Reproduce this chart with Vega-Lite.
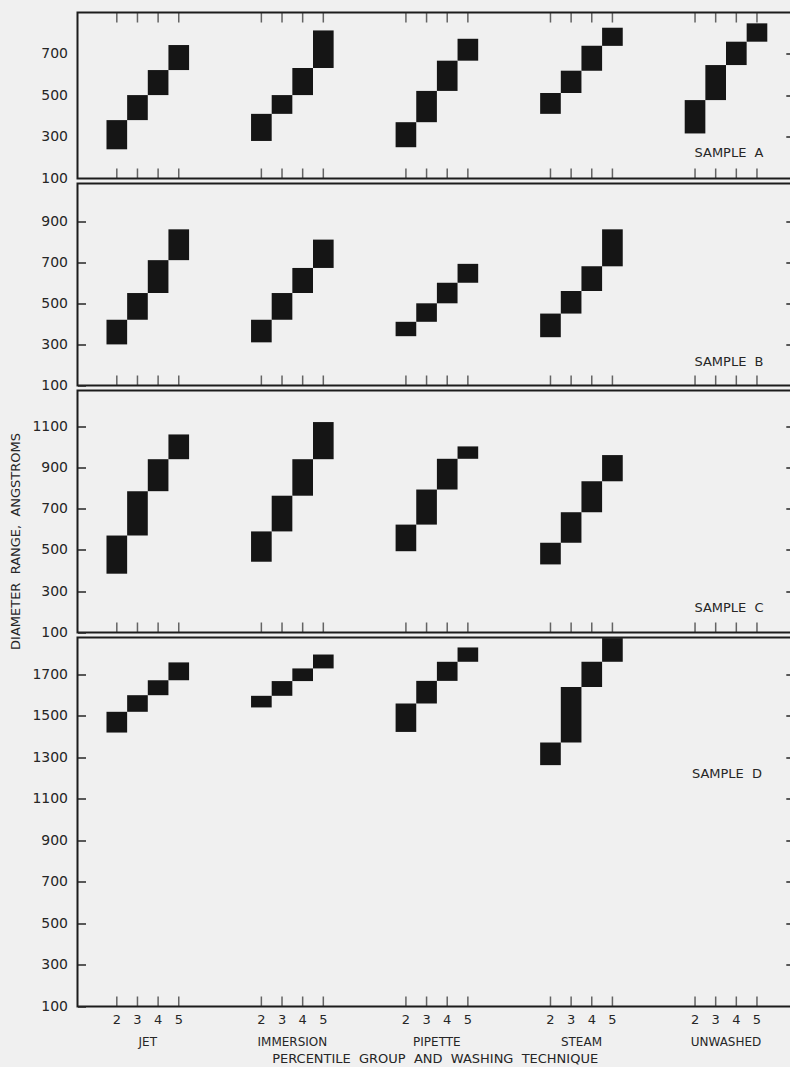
{
  "$schema": "https://vega.github.io/schema/vega-lite/v6.json",
  "background": "#f0f0f0",
  "padding": {"left": 8.5, "top": 11.5, "right": -2, "bottom": 0},
  "datasets": {
    "ranges": [
      {"sample": "A", "technique": "JET", "group": 2, "low": 240, "high": 380},
      {"sample": "A", "technique": "JET", "group": 3, "low": 380, "high": 500},
      {"sample": "A", "technique": "JET", "group": 4, "low": 500, "high": 620},
      {"sample": "A", "technique": "JET", "group": 5, "low": 620, "high": 740},
      {"sample": "A", "technique": "IMMERSION", "group": 2, "low": 280, "high": 410},
      {"sample": "A", "technique": "IMMERSION", "group": 3, "low": 410, "high": 500},
      {"sample": "A", "technique": "IMMERSION", "group": 4, "low": 500, "high": 630},
      {"sample": "A", "technique": "IMMERSION", "group": 5, "low": 630, "high": 810},
      {"sample": "A", "technique": "PIPETTE", "group": 2, "low": 250, "high": 370},
      {"sample": "A", "technique": "PIPETTE", "group": 3, "low": 370, "high": 520},
      {"sample": "A", "technique": "PIPETTE", "group": 4, "low": 520, "high": 665},
      {"sample": "A", "technique": "PIPETTE", "group": 5, "low": 665, "high": 770},
      {"sample": "A", "technique": "STEAM", "group": 2, "low": 410, "high": 510},
      {"sample": "A", "technique": "STEAM", "group": 3, "low": 510, "high": 617},
      {"sample": "A", "technique": "STEAM", "group": 4, "low": 617, "high": 736},
      {"sample": "A", "technique": "STEAM", "group": 5, "low": 736, "high": 823},
      {"sample": "A", "technique": "UNWASHED", "group": 2, "low": 316, "high": 476},
      {"sample": "A", "technique": "UNWASHED", "group": 3, "low": 476, "high": 644},
      {"sample": "A", "technique": "UNWASHED", "group": 4, "low": 644, "high": 756},
      {"sample": "A", "technique": "UNWASHED", "group": 5, "low": 756, "high": 844},
      {"sample": "B", "technique": "JET", "group": 2, "low": 300, "high": 420},
      {"sample": "B", "technique": "JET", "group": 3, "low": 420, "high": 550},
      {"sample": "B", "technique": "JET", "group": 4, "low": 550, "high": 710},
      {"sample": "B", "technique": "JET", "group": 5, "low": 710, "high": 860},
      {"sample": "B", "technique": "IMMERSION", "group": 2, "low": 310, "high": 420},
      {"sample": "B", "technique": "IMMERSION", "group": 3, "low": 420, "high": 550},
      {"sample": "B", "technique": "IMMERSION", "group": 4, "low": 550, "high": 672},
      {"sample": "B", "technique": "IMMERSION", "group": 5, "low": 672, "high": 810},
      {"sample": "B", "technique": "PIPETTE", "group": 2, "low": 340, "high": 410},
      {"sample": "B", "technique": "PIPETTE", "group": 3, "low": 410, "high": 500},
      {"sample": "B", "technique": "PIPETTE", "group": 4, "low": 500, "high": 600},
      {"sample": "B", "technique": "PIPETTE", "group": 5, "low": 600, "high": 692},
      {"sample": "B", "technique": "STEAM", "group": 2, "low": 335, "high": 450},
      {"sample": "B", "technique": "STEAM", "group": 3, "low": 450, "high": 560},
      {"sample": "B", "technique": "STEAM", "group": 4, "low": 560, "high": 680},
      {"sample": "B", "technique": "STEAM", "group": 5, "low": 680, "high": 860},
      {"sample": "C", "technique": "JET", "group": 2, "low": 385, "high": 570},
      {"sample": "C", "technique": "JET", "group": 3, "low": 570, "high": 785},
      {"sample": "C", "technique": "JET", "group": 4, "low": 785, "high": 940},
      {"sample": "C", "technique": "JET", "group": 5, "low": 940, "high": 1060},
      {"sample": "C", "technique": "IMMERSION", "group": 2, "low": 443, "high": 590},
      {"sample": "C", "technique": "IMMERSION", "group": 3, "low": 590, "high": 763},
      {"sample": "C", "technique": "IMMERSION", "group": 4, "low": 763, "high": 940},
      {"sample": "C", "technique": "IMMERSION", "group": 5, "low": 940, "high": 1120},
      {"sample": "C", "technique": "PIPETTE", "group": 2, "low": 494, "high": 623},
      {"sample": "C", "technique": "PIPETTE", "group": 3, "low": 623, "high": 793},
      {"sample": "C", "technique": "PIPETTE", "group": 4, "low": 793, "high": 942},
      {"sample": "C", "technique": "PIPETTE", "group": 5, "low": 942, "high": 1002},
      {"sample": "C", "technique": "STEAM", "group": 2, "low": 430, "high": 535},
      {"sample": "C", "technique": "STEAM", "group": 3, "low": 535, "high": 683},
      {"sample": "C", "technique": "STEAM", "group": 4, "low": 683, "high": 833},
      {"sample": "C", "technique": "STEAM", "group": 5, "low": 833, "high": 960},
      {"sample": "D", "technique": "JET", "group": 2, "low": 1420, "high": 1520},
      {"sample": "D", "technique": "JET", "group": 3, "low": 1520, "high": 1600},
      {"sample": "D", "technique": "JET", "group": 4, "low": 1600, "high": 1672},
      {"sample": "D", "technique": "JET", "group": 5, "low": 1672, "high": 1758},
      {"sample": "D", "technique": "IMMERSION", "group": 2, "low": 1541, "high": 1597},
      {"sample": "D", "technique": "IMMERSION", "group": 3, "low": 1597, "high": 1668},
      {"sample": "D", "technique": "IMMERSION", "group": 4, "low": 1668, "high": 1729},
      {"sample": "D", "technique": "IMMERSION", "group": 5, "low": 1729, "high": 1796},
      {"sample": "D", "technique": "PIPETTE", "group": 2, "low": 1423, "high": 1560},
      {"sample": "D", "technique": "PIPETTE", "group": 3, "low": 1560, "high": 1669},
      {"sample": "D", "technique": "PIPETTE", "group": 4, "low": 1669, "high": 1761},
      {"sample": "D", "technique": "PIPETTE", "group": 5, "low": 1761, "high": 1830},
      {"sample": "D", "technique": "STEAM", "group": 2, "low": 1263, "high": 1372},
      {"sample": "D", "technique": "STEAM", "group": 3, "low": 1372, "high": 1640},
      {"sample": "D", "technique": "STEAM", "group": 4, "low": 1640, "high": 1761},
      {"sample": "D", "technique": "STEAM", "group": 5, "low": 1761, "high": 1875}
    ],
    "panels": [
      {"sample": "A", "label": "SAMPLE\u00a0 A"},
      {"sample": "B", "label": "SAMPLE\u00a0 B"},
      {"sample": "C", "label": "SAMPLE\u00a0 C"},
      {"sample": "D", "label": "SAMPLE\u00a0 D"}
    ]
  },
  "data": {"name": "ranges"},
  "spacing": 5,
  "bounds": "flush",
  "vconcat": [
    {
      "width": 714.3,
      "height": 166,
      "layer": [
        {
          "transform": [{"filter": "datum.sample === 'A'"}],
          "mark": {"type": "bar", "color": "#151515"},
          "encoding": {
            "x": {"field": "technique", "type": "nominal", "axis": null,
                  "scale": {"type": "band", "domain": ["JET", "IMMERSION", "PIPETTE", "STEAM", "UNWASHED"], "paddingInner": 0.4286, "paddingOuter": 0.185, "align": 0.542, "round": false}},
            "xOffset": {"field": "group", "type": "ordinal", "scale": {"domain": [2, 3, 4, 5], "paddingInner": 0, "paddingOuter": 0}},
            "y": {"field": "low", "type": "quantitative",
                  "scale": {"domain": [100, 896], "nice": false, "zero": false},
                  "axis": {"values": [100, 300, 500, 700], "format": "d", "title": null, "tickSize": -8, "tickOpacity": 0, "labelPadding": 18}},
            "y2": {"field": "high"}
          }
        },
        {
          "transform": [{"filter": "datum.sample === 'A'"}],
          "mark": {"type": "tick", "orient": "vertical", "size": 10, "thickness": 1.5, "yOffset": 5, "color": "#262626"},
          "encoding": {
            "x": {"field": "technique", "type": "nominal", "axis": null},
            "xOffset": {"field": "group", "type": "ordinal"},
            "y": {"datum": 896, "type": "quantitative", "axis": null}
          }
        },
        {
          "transform": [{"filter": "datum.sample === 'A'"}],
          "mark": {"type": "tick", "orient": "vertical", "size": 10, "thickness": 1.5, "yOffset": -5, "color": "#262626"},
          "encoding": {
            "x": {"field": "technique", "type": "nominal", "axis": null},
            "xOffset": {"field": "group", "type": "ordinal"},
            "y": {"datum": 100, "type": "quantitative",
                  "axis": {"orient": "right", "values": [300, 500, 700], "labels": false, "title": null, "tickSize": -6}}
          }
        },
        {
          "data": {"name": "panels"},
          "transform": [{"filter": "datum.sample === 'A'"}],
          "mark": {"type": "text", "fontSize": 13, "color": "#262626", "dx": 3},
          "encoding": {
            "x": {"datum": "UNWASHED", "type": "nominal", "axis": null},
            "y": {"datum": 222, "type": "quantitative", "axis": null},
            "text": {"field": "label"}
          }
        }
      ],
      "resolve": {"axis": {"x": "independent", "y": "independent"}}
    },
    {
      "width": 714.3,
      "height": 202,
      "layer": [
        {
          "transform": [{"filter": "datum.sample === 'B'"}],
          "mark": {"type": "bar", "color": "#151515"},
          "encoding": {
            "x": {"field": "technique", "type": "nominal", "axis": null,
                  "scale": {"type": "band", "domain": ["JET", "IMMERSION", "PIPETTE", "STEAM", "UNWASHED"], "paddingInner": 0.4286, "paddingOuter": 0.185, "align": 0.542, "round": false}},
            "xOffset": {"field": "group", "type": "ordinal", "scale": {"domain": [2, 3, 4, 5], "paddingInner": 0, "paddingOuter": 0}},
            "y": {"field": "low", "type": "quantitative",
                  "scale": {"domain": [100, 1083], "nice": false, "zero": false},
                  "axis": {"values": [100, 300, 500, 700, 900], "format": "d", "title": null, "tickSize": -8, "labelPadding": 18}},
            "y2": {"field": "high"}
          }
        },
        {
          "transform": [{"filter": "datum.sample === 'A'"}],
          "mark": {"type": "tick", "orient": "vertical", "size": 10, "thickness": 1.5, "yOffset": -5, "color": "#262626"},
          "encoding": {
            "x": {"field": "technique", "type": "nominal", "axis": null},
            "xOffset": {"field": "group", "type": "ordinal"},
            "y": {"datum": 100, "type": "quantitative",
                  "axis": {"orient": "right", "values": [300, 500, 700, 900], "labels": false, "title": null, "tickSize": -6}}
          }
        },
        {
          "data": {"name": "panels"},
          "transform": [{"filter": "datum.sample === 'B'"}],
          "mark": {"type": "text", "fontSize": 13, "color": "#262626", "dx": 3},
          "encoding": {
            "x": {"datum": "UNWASHED", "type": "nominal", "axis": null},
            "y": {"datum": 216, "type": "quantitative", "axis": null},
            "text": {"field": "label"}
          }
        }
      ],
      "resolve": {"axis": {"x": "independent", "y": "independent"}}
    },
    {
      "width": 714.3,
      "height": 242,
      "layer": [
        {
          "transform": [{"filter": "datum.sample === 'C'"}],
          "mark": {"type": "bar", "color": "#151515"},
          "encoding": {
            "x": {"field": "technique", "type": "nominal", "axis": null,
                  "scale": {"type": "band", "domain": ["JET", "IMMERSION", "PIPETTE", "STEAM", "UNWASHED"], "paddingInner": 0.4286, "paddingOuter": 0.185, "align": 0.542, "round": false}},
            "xOffset": {"field": "group", "type": "ordinal", "scale": {"domain": [2, 3, 4, 5], "paddingInner": 0, "paddingOuter": 0}},
            "y": {"field": "low", "type": "quantitative",
                  "scale": {"domain": [100, 1273], "nice": false, "zero": false},
                  "axis": {"values": [100, 300, 500, 700, 900, 1100], "format": "d", "tickSize": -8, "labelPadding": 18,
                           "title": "DIAMETER\u00a0 RANGE,\u00a0 ANGSTROMS", "titleX": -61.7, "titleY": 150.5,
                           "titleAngle": -90, "titleBaseline": "middle", "titleAlign": "center", "titleFontSize": 13}},
            "y2": {"field": "high"}
          }
        },
        {
          "transform": [{"filter": "datum.sample === 'A'"}],
          "mark": {"type": "tick", "orient": "vertical", "size": 10, "thickness": 1.5, "yOffset": -5, "color": "#262626"},
          "encoding": {
            "x": {"field": "technique", "type": "nominal", "axis": null},
            "xOffset": {"field": "group", "type": "ordinal"},
            "y": {"datum": 100, "type": "quantitative",
                  "axis": {"orient": "right", "values": [300, 500, 700, 900, 1100], "labels": false, "title": null, "tickSize": -6}}
          }
        },
        {
          "data": {"name": "panels"},
          "transform": [{"filter": "datum.sample === 'C'"}],
          "mark": {"type": "text", "fontSize": 13, "color": "#262626", "dx": 3},
          "encoding": {
            "x": {"datum": "UNWASHED", "type": "nominal", "axis": null},
            "y": {"datum": 219, "type": "quantitative", "axis": null},
            "text": {"field": "label"}
          }
        }
      ],
      "resolve": {"axis": {"x": "independent", "y": "independent"}}
    },
    {
      "width": 714.3,
      "height": 369,
      "layer": [
        {
          "transform": [{"filter": "datum.sample === 'D'"}],
          "mark": {"type": "bar", "color": "#151515"},
          "encoding": {
            "x": {"field": "technique", "type": "nominal",
                  "scale": {"type": "band", "domain": ["JET", "IMMERSION", "PIPETTE", "STEAM", "UNWASHED"], "paddingInner": 0.4286, "paddingOuter": 0.185, "align": 0.542, "round": false},
                  "axis": {"orient": "bottom", "ticks": false, "labelPadding": 30, "labelFontSize": 12, "labelAngle": 0,
                           "title": "PERCENTILE\u00a0 GROUP\u00a0 AND\u00a0 WASHING\u00a0 TECHNIQUE", "titleFontSize": 13, "titlePadding": 5}},
            "xOffset": {"field": "group", "type": "ordinal", "scale": {"domain": [2, 3, 4, 5], "paddingInner": 0, "paddingOuter": 0}},
            "y": {"field": "low", "type": "quantitative",
                  "scale": {"domain": [100, 1878], "nice": false, "zero": false},
                  "axis": {"values": [100, 300, 500, 700, 900, 1100, 1300, 1500, 1700], "format": "d", "title": null, "tickSize": -8, "labelPadding": 18}},
            "y2": {"field": "high"}
          }
        },
        {
          "transform": [{"filter": "datum.sample === 'A'"}],
          "mark": {"type": "tick", "orient": "vertical", "size": 10, "thickness": 1.5, "yOffset": -5, "color": "#262626"},
          "encoding": {
            "x": {"field": "technique", "type": "nominal", "axis": null},
            "xOffset": {"field": "group", "type": "ordinal"},
            "y": {"datum": 100, "type": "quantitative",
                  "axis": {"orient": "right", "values": [300, 500, 700, 900, 1100, 1300, 1500, 1700], "labels": false, "title": null, "tickSize": -6}}
          }
        },
        {
          "transform": [{"filter": "datum.sample === 'A'"}],
          "mark": {"type": "text", "fontSize": 13, "color": "#262626", "baseline": "middle", "dy": 14},
          "encoding": {
            "x": {"field": "technique", "type": "nominal", "axis": null},
            "xOffset": {"field": "group", "type": "ordinal"},
            "y": {"datum": 100, "type": "quantitative", "axis": null},
            "text": {"field": "group", "type": "nominal"}
          }
        },
        {
          "data": {"name": "panels"},
          "transform": [{"filter": "datum.sample === 'D'"}],
          "mark": {"type": "text", "fontSize": 13, "color": "#262626", "dx": 1},
          "encoding": {
            "x": {"datum": "UNWASHED", "type": "nominal", "axis": null},
            "y": {"datum": 1220, "type": "quantitative", "axis": null},
            "text": {"field": "label"}
          }
        }
      ],
      "resolve": {"axis": {"x": "independent", "y": "independent"}}
    }
  ],
  "config": {
    "font": "DejaVu Sans",
    "view": {"stroke": "#1c1c1c", "strokeWidth": 2},
    "axis": {
      "grid": false,
      "domain": false,
      "labelFont": "DejaVu Sans",
      "labelFontSize": 14,
      "labelColor": "#262626",
      "tickColor": "#262626",
      "tickWidth": 1.5,
      "titleFont": "DejaVu Sans",
      "titleFontWeight": "normal",
      "titleColor": "#262626"
    }
  }
}
